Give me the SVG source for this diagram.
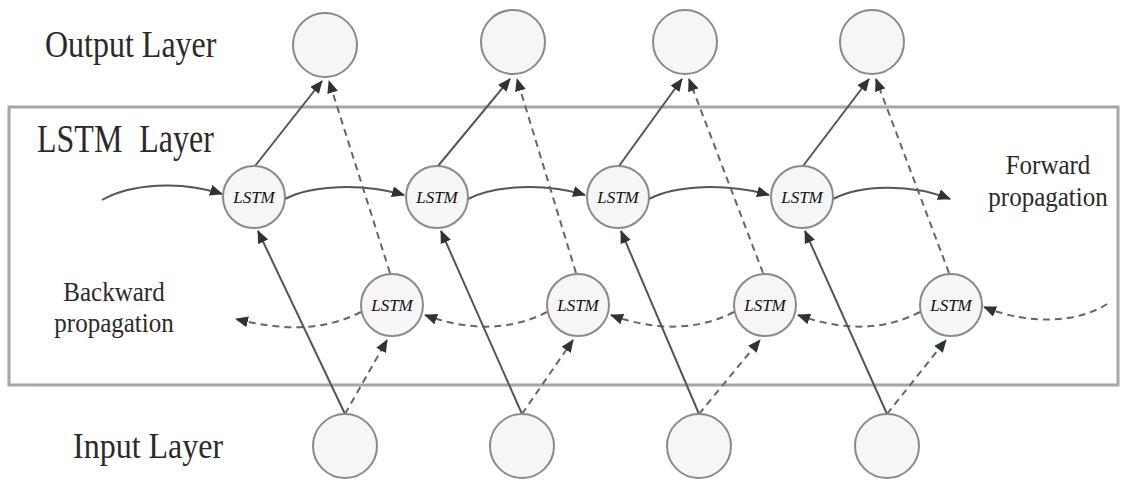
<svg xmlns="http://www.w3.org/2000/svg" width="1126" height="483" viewBox="0 0 1126 483">
<style>
.lbl{font-family:'Liberation Serif','Times New Roman','DejaVu Serif','Noto Serif',serif;fill:#2a2a2a}
.big{font-size:32px}
.mid{font-size:25px}
.cell{font-family:'Liberation Serif','Times New Roman','DejaVu Serif',serif;font-style:italic;font-size:17px;fill:#111;text-anchor:middle}
.node{fill:#f6f6f6;stroke:#8a8a8a;stroke-width:2}
.s{fill:none;stroke:#555;stroke-width:2;marker-end:url(#ah)}
.d{fill:none;stroke:#666;stroke-width:2;stroke-dasharray:7 5;marker-end:url(#ah)}
</style>
<defs>
<marker id="ah" markerUnits="userSpaceOnUse" markerWidth="13" markerHeight="11" refX="12" refY="5.5" orient="auto">
<path d="M0,0 L13,5.5 L0,11 Z" fill="#2f3333"/>
</marker>
</defs>
<rect width="1126" height="483" fill="#fff"/>
<rect id="lstm-layer" x="9" y="107" width="1109" height="278" fill="none" stroke="#a3a7a7" stroke-width="3"/>

<g id="labels">
<g transform="translate(45,57) scale(1,1.18)"><text class="lbl big" font-family="Liberation Serif, serif">Output Layer</text></g>
<g transform="translate(37,152) scale(1,1.22)"><text class="lbl big" font-family="Liberation Serif, serif" word-spacing="9">LSTM Layer</text></g>
<g transform="translate(73,458) scale(1,1.15)"><text class="lbl big" font-family="Liberation Serif, serif">Input Layer</text></g>
<g transform="translate(114,301) scale(1,1.08)"><text class="lbl mid" font-family="Liberation Serif, serif" text-anchor="middle">Backward</text></g>
<g transform="translate(114,332) scale(1,1.08)"><text class="lbl mid" font-family="Liberation Serif, serif" text-anchor="middle">propagation</text></g>
<g transform="translate(1048,174) scale(1,1.08)"><text class="lbl mid" font-family="Liberation Serif, serif" text-anchor="middle">Forward</text></g>
<g transform="translate(1048,206) scale(1,1.08)"><text class="lbl mid" font-family="Liberation Serif, serif" text-anchor="middle">propagation</text></g>
</g>

<g id="connectors">
<path class="s" d="M102,200 C130,184 180,180 222,194"/>
<path class="s" d="M285,199 C312,185 362,183 404,195"/>
<path class="s" d="M468,199 C495,185 545,183 585,195"/>
<path class="s" d="M649,199 C676,185 726,183 769,195"/>
<path class="s" d="M833,199 C860,185 910,183 950,199"/>
<path class="d" d="M1107,304 C1080,322 1030,326 984,307"/>
<path class="d" d="M920,312 C881,332 840,330 798,315"/>
<path class="d" d="M734,312 C695,332 652,330 611,315"/>
<path class="d" d="M547,312 C508,332 466,330 425,315"/>
<path class="d" d="M361,312 C322,332 280,330 236,319"/>
<path class="s" d="M255,166 L322,81"/>
<path class="d" d="M390,273 L329,81"/>
<path class="s" d="M345,414 L258,231"/>
<path class="d" d="M345,414 L387,340"/>
<path class="s" d="M438,166 L510,79"/>
<path class="d" d="M576,273 L517,79"/>
<path class="s" d="M522,414 L441,231"/>
<path class="d" d="M522,414 L573,340"/>
<path class="s" d="M619,166 L682,79"/>
<path class="d" d="M763,273 L689,79"/>
<path class="s" d="M699,414 L621,231"/>
<path class="d" d="M699,414 L760,340"/>
<path class="s" d="M803,166 L869,79"/>
<path class="d" d="M949,273 L876,79"/>
<path class="s" d="M887,414 L805,231"/>
<path class="d" d="M887,414 L946,340"/>
</g>

<g id="out1"><circle class="node" cx="325" cy="45" r="32"/></g>
<g id="out2"><circle class="node" cx="513" cy="42" r="32"/></g>
<g id="out3"><circle class="node" cx="685" cy="42" r="32"/></g>
<g id="out4"><circle class="node" cx="872" cy="42" r="32"/></g>

<g id="fwd1"><circle class="node" cx="254" cy="197" r="31"/><text class="cell" x="254" y="203">LSTM</text></g>
<g id="fwd2"><circle class="node" cx="437" cy="197" r="31"/><text class="cell" x="437" y="203">LSTM</text></g>
<g id="fwd3"><circle class="node" cx="618" cy="197" r="31"/><text class="cell" x="618" y="203">LSTM</text></g>
<g id="fwd4"><circle class="node" cx="802" cy="197" r="31"/><text class="cell" x="802" y="203">LSTM</text></g>

<g id="bwd1"><circle class="node" cx="392" cy="305" r="31"/><text class="cell" x="392" y="311">LSTM</text></g>
<g id="bwd2"><circle class="node" cx="578" cy="305" r="31"/><text class="cell" x="578" y="311">LSTM</text></g>
<g id="bwd3"><circle class="node" cx="765" cy="305" r="31"/><text class="cell" x="765" y="311">LSTM</text></g>
<g id="bwd4"><circle class="node" cx="951" cy="305" r="31"/><text class="cell" x="951" y="311">LSTM</text></g>

<g id="in1"><circle class="node" cx="345" cy="446" r="32"/></g>
<g id="in2"><circle class="node" cx="522" cy="446" r="32"/></g>
<g id="in3"><circle class="node" cx="699" cy="446" r="32"/></g>
<g id="in4"><circle class="node" cx="887" cy="446" r="32"/></g>
</svg>
